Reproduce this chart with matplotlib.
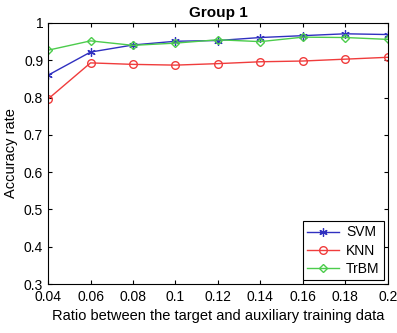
import matplotlib
matplotlib.use('Agg')
import matplotlib.pyplot as plt

ratio = [0.04, 0.06, 0.08, 0.10, 0.12, 0.14, 0.16, 0.18, 0.20]
svm = [0.860, 0.922, 0.941, 0.951, 0.953, 0.961, 0.966, 0.971, 0.969]
knn = [0.796, 0.893, 0.889, 0.887, 0.891, 0.896, 0.898, 0.903, 0.908]
trbm = [0.927, 0.952, 0.940, 0.946, 0.955, 0.950, 0.962, 0.961, 0.956]

xticks = [0.04, 0.06, 0.08, 0.1, 0.12, 0.14, 0.16, 0.18, 0.2]
xticklabels = ['0.04', '0.06', '0.08', '0.1', '0.12', '0.14', '0.16', '0.18', '0.2']
yticks = [0.3, 0.4, 0.5, 0.6, 0.7, 0.8, 0.9, 1.0]
yticklabels = ['0.3', '0.4', '0.5', '0.6', '0.7', '0.8', '0.9', '1']

plt.rcParams['font.family'] = ['Liberation Sans', 'DejaVu Sans']

fig = plt.figure(figsize=(3.97, 3.33), dpi=100)
ax = fig.add_axes([0.121, 0.147, 0.856, 0.784])

# matlab style asterisk marker
ax.plot(ratio, svm, color='#3030c0', marker=(6, 2, 0), markersize=6, lw=1,
        markeredgewidth=0.9, label='SVM')
ax.plot(ratio, knn, color='#f03c3c', marker='o', markersize=5.5, lw=1,
        markerfacecolor='none', label='KNN')
ax.plot(ratio, trbm, color='#4ccc4c', marker='D', markersize=4.5, lw=1,
        markerfacecolor='none', label='TrBM')

ax.set_xlim(0.04, 0.2)
ax.set_ylim(0.3, 1.0)
ax.set_xticks(xticks)
ax.set_xticklabels(xticklabels)
ax.set_yticks(yticks)
ax.set_yticklabels(yticklabels)
ax.tick_params(direction='in', top=True, right=True, labelsize=10, length=3)
ax.tick_params(axis='x', pad=4)
for s in ax.spines.values():
    s.set_linewidth(0.8)

ax.set_title('Group 1', fontsize=11, fontweight='bold', pad=4)
ax.set_xlabel('Ratio between the target and auxiliary training data', fontsize=10.5)
ax.set_ylabel('Accuracy rate', fontsize=10.5)

leg = ax.legend(loc='lower right', fontsize=10, fancybox=False, framealpha=1,
                edgecolor='black', borderpad=0.3, labelspacing=0.3,
                handlelength=2.3, handletextpad=0.5, borderaxespad=0.3)
leg.get_frame().set_linewidth(0.8)

fig.savefig('out.png', dpi=100)
